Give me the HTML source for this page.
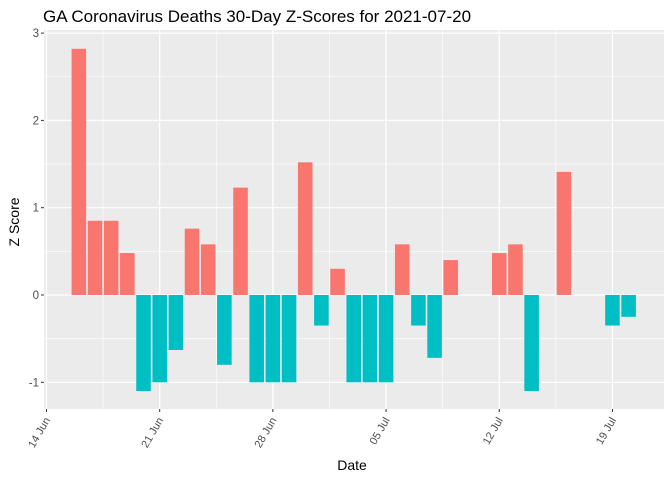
<!DOCTYPE html>
<html><head><meta charset="utf-8"><style>
body{margin:0;background:#fff;font-family:"Liberation Sans",Arial,sans-serif}
svg text{font-family:"Liberation Sans",Arial,sans-serif}
</style></head><body>
<svg id="chart" width="672" height="480" xmlns="http://www.w3.org/2000/svg">
<rect x="0" y="0" width="672" height="480" fill="#fff"/>
<text x="43" y="22" font-size="17" fill="#000">GA Coronavirus Deaths 30-Day Z-Scores for 2021-07-20</text>
<rect x="44" y="30" width="620" height="379" fill="#ebebeb"/>
<g id="grid"></g><g id="bars"></g><g id="axes"></g>
<text x="352" y="470" font-size="14" text-anchor="middle" fill="#000">Date</text>
<text transform="translate(19,222) rotate(-90)" font-size="14" text-anchor="middle" fill="#000">Z Score</text>
</svg>
<script>
const dayOffsets=[2,3,4,5,6,7,8,9,10,11,12,13,14,15,16,17,18,19,20,21,22,23,24,25,28,29,30,32,35,36];
const values=[2.82,0.85,0.85,0.48,-1.1,-1.0,-0.63,0.76,0.58,-0.8,1.23,-1.0,-1.0,-1.0,1.52,-0.35,0.3,-1.0,-1.0,-1.0,0.58,-0.35,-0.72,0.4,0.48,0.58,-1.1,1.41,-0.35,-0.25];
const yTicks=[-1,0,1,2,3];
const xTickDays=[0,7,14,21,28,35];
const xTickLabels=["14 Jun","21 Jun","28 Jun","05 Jul","12 Jul","19 Jul"];
const NS="http://www.w3.org/2000/svg";
const xs=d=>46.5+d*16.17;
const ys=v=>295-v*87.3;
const pL=44,pR=664,pT=30,pB=409;
const gridG=document.getElementById('grid'),barsG=document.getElementById('bars'),axesG=document.getElementById('axes');
function mk(tag,attrs,parent){const e=document.createElementNS(NS,tag);for(const k in attrs)e.setAttribute(k,attrs[k]);parent.appendChild(e);return e;}
for(let i=0;i<yTicks.length-1;i++){const v=(yTicks[i]+yTicks[i+1])/2;
const l=mk('line',{x1:pL,x2:pR,y1:ys(v),y2:ys(v),stroke:'#fff','stroke-width':0.6},gridG);

}
for(let i=0;i<xTickDays.length;i++){const d=xTickDays[i]+3.5;if(xs(d)<pR){
const l=mk('line',{x1:xs(d),x2:xs(d),y1:pT,y2:pB,stroke:'#fff','stroke-width':0.6},gridG);

}}
yTicks.forEach(v=>{
const l=mk('line',{x1:pL,x2:pR,y1:ys(v),y2:ys(v),stroke:'#fff','stroke-width':1.2},gridG);


const t=mk('line',{x1:pL-3,x2:pL,y1:ys(v),y2:ys(v),stroke:'#333','stroke-width':1},axesG);


const tx=mk('text',{x:pL-5,y:ys(v)+4,'font-size':11.5,'text-anchor':'end',fill:'#4d4d4d'},axesG);
tx.textContent=v;

});
xTickDays.forEach((d,i)=>{
const l=mk('line',{x1:xs(d),x2:xs(d),y1:pT,y2:pB,stroke:'#fff','stroke-width':1.2},gridG);


const t=mk('line',{x1:xs(d),x2:xs(d),y1:pB,y2:pB+3,stroke:'#333','stroke-width':1},axesG);


const tx=mk('text',{transform:`translate(${xs(d)+4},${pB+11}) rotate(-60)`,'font-size':11,'text-anchor':'end',fill:'#4d4d4d'},axesG);
tx.textContent=xTickLabels[i];

});
dayOffsets.forEach((d,i)=>{const v=values[i];const w=0.9*16.17;
const r=mk('rect',{x:xs(d)-w/2,width:w,y:Math.min(ys(v),ys(0)),height:Math.abs(ys(v)-ys(0)),fill:v>=0?'#f8766d':'#00bfc4'},barsG);

});
</script>
</body></html>
